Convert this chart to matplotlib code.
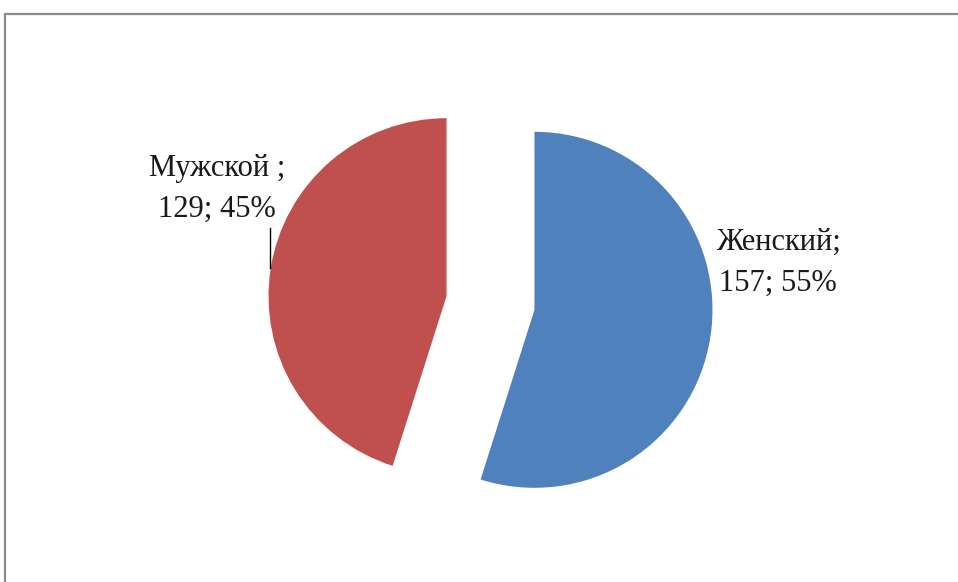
import matplotlib.pyplot as plt
from matplotlib.patches import Rectangle

# данные: пол респондентов
categories = ['Женский', 'Мужской']
counts = [157, 129]
label_sep = [';', ' ;']
colors = ['#4F81BD', '#C0504D']

W, H = 958, 582
cx, cy, r = 490.5, 303, 178  # центр и радиус круга в пикселях

fig = plt.figure(figsize=(W / 100, H / 100), dpi=100)
ax = fig.add_axes([0, 0, 1, 1])


def px(x, y):
    # пиксели -> координаты осей
    return (x - cx) / r, (cy - y) / r


ax.pie(counts, colors=colors, startangle=90, counterclock=False,
       explode=[0.25, 0.25], radius=1, wedgeprops=dict(linewidth=0))
# pie сам выставляет пределы, поэтому задаём их после
ax.set_aspect('auto')
ax.set_xlim(-cx / r, (W - cx) / r)
ax.set_ylim(-(H - cy) / r, cy / r)
ax.axis('off')

total = sum(counts)
texts = []
for name, n, sep in zip(categories, counts, label_sep):
    texts.append(f'{name}{sep}\n{n}; {round(100 * n / total)}%')

font = dict(family='Liberation Serif', fontsize=22, ha='center',
            va='center', linespacing=1.55, color='#1a1a1a')
ax.text(*px(778, 263), texts[0], **font)
ax.text(*px(217, 189), texts[1], **font)

# линия-выноска у метки "Мужской"
x0, y0 = px(270, 228)
x1, y1 = px(270, 268)
ax.plot([x0, x1], [y0, y1], color='black', lw=1)

# рамка диаграммы
fig.patches.append(Rectangle((5 / W, -0.05), 1.1, (H - 14) / H + 0.05,
                             transform=fig.transFigure, fill=False,
                             edgecolor='#8a8a8a', lw=1.6))

plt.savefig('out.png', dpi=100)
